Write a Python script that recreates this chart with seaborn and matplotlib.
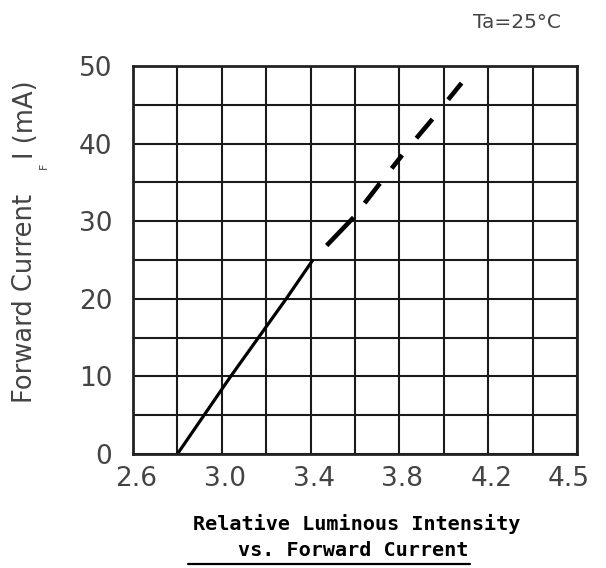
import numpy as np
import pandas as pd
import matplotlib
matplotlib.use("Agg")
import matplotlib.pyplot as plt
import matplotlib.transforms as mtrans
from matplotlib.lines import Line2D
import seaborn as sns

# courbe IF = f(VF)
v_solid = [2.80, 2.92, 3.04, 3.165, 3.29, 3.41]
i_solid = [0, 5, 10, 15, 20, 25]
v_dash = [3.41, 3.594, 3.713, 3.812, 3.95, 4.08]
i_dash = [25, 30.5, 34.9, 38.5, 43.2, 47.8]

x_ticks = [2.6, 3.0, 3.4, 3.8, 4.2, 4.55]
x_labels = ["2.6", "3.0", "3.4", "3.8", "4.2", "4.5"]
y_ticks = [0, 10, 20, 30, 40, 50]

df_solid = pd.DataFrame({"VF": v_solid, "IF": i_solid})
df_dash = pd.DataFrame({"VF": v_dash, "IF": i_dash})

sns.set_theme(style="white")
plt.rcParams["font.family"] = ["DejaVu Sans"]
plt.rcParams["lines.scale_dashes"] = False

fig = plt.figure(figsize=(6.06, 5.68), dpi=100)
ax = fig.add_axes([133 / 606, 1 - 454 / 568, 444 / 606, 388 / 568])

sns.lineplot(data=df_solid, x="VF", y="IF", ax=ax, color="black", lw=2.3,
             solid_capstyle="butt")
px = 0.72  # 1 pixel en points
ax.plot(df_dash["VF"], df_dash["IF"], color="black", lw=3.3,
        dash_capstyle="butt",
        linestyle=(0, (0.01, 20 * px, 39 * px, 18 * px, 25 * px, 19 * px,
                       17 * px, 22 * px, 25 * px, 25 * px, 23 * px, 60 * px)))

ax.set_xlim(2.6, 4.6)
ax.set_ylim(0, 50)
ax.set_xticks(x_ticks)
ax.set_xticklabels(x_labels)
ax.set_yticks(y_ticks)
ax.set_xticks(np.arange(2.6, 4.61, 0.2), minor=True)
ax.set_yticks(np.arange(0, 51, 5), minor=True)
ax.xaxis.remove_overlapping_locs = False
ax.yaxis.remove_overlapping_locs = False
ax.grid(False)
ax.grid(which="minor", color="#1a1a1a", lw=1.5)
ax.tick_params(which="both", length=0)
ax.tick_params(axis="y", labelsize=19, pad=15, colors="#444444")
ax.tick_params(axis="x", labelsize=19, pad=9, colors="#444444")
for lab in ax.get_xticklabels():
    lab.set_transform(lab.get_transform() +
                      mtrans.ScaledTranslation(3 / 100, 0, fig.dpi_scale_trans))
for s in ax.spines.values():
    s.set_color("#222222")
    s.set_linewidth(2)
ax.set_xlabel("")
ax.set_ylabel("")

# titre de l'axe y en morceaux (indice F)
fig.text(25 / 606, 1 - 298 / 568, "Forward Current", rotation=90,
         ha="center", va="center", fontsize=18.5, color="#444444")
fig.text(26 / 606, 1 - 120 / 568, "I (mA)", rotation=90,
         ha="center", va="center", fontsize=18.5, color="#444444")
fig.text(44 / 606, 1 - 166 / 568, "F", rotation=90,
         ha="center", va="center", fontsize=8, color="#444444")

fig.text(517 / 606, 1 - 22 / 568, "Ta=25°C", ha="center", va="center",
         fontsize=14.5, color="#444444")

fig.text(357 / 606, 1 - 524 / 568, "Relative Luminous Intensity",
         ha="center", va="center", fontsize=14.5, fontweight="bold",
         family="DejaVu Sans Mono", color="black")
fig.text(353 / 606, 1 - 550 / 568, "vs. Forward Current",
         ha="center", va="center", fontsize=14.5, fontweight="bold",
         family="DejaVu Sans Mono", color="black")
fig.add_artist(Line2D([188 / 606, 470 / 606], [1 - 564 / 568, 1 - 564 / 568],
                      transform=fig.transFigure, color="black", lw=1.6))

fig.savefig("out.png", dpi=100)
